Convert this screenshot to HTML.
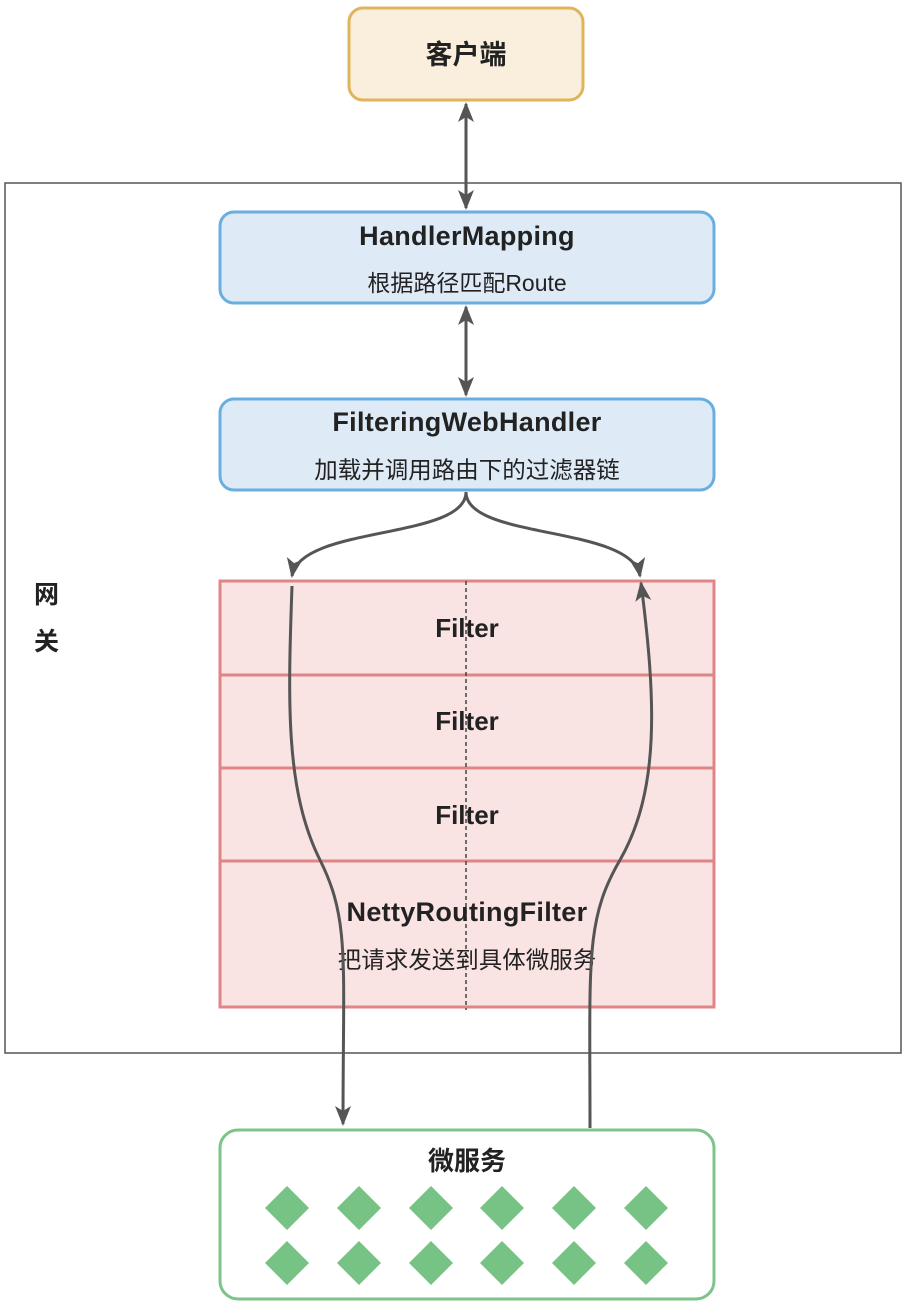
<!DOCTYPE html>
<html><head><meta charset="utf-8"><style>
html,body{margin:0;padding:0;background:#fff}
text{font-family:"Liberation Sans","Noto Sans CJK SC",sans-serif;fill:#222}
</style></head><body>
<svg width="910" height="1307" viewBox="0 0 910 1307" xmlns="http://www.w3.org/2000/svg">
<defs>
<marker id="a" viewBox="0 0 20 20" refX="18" refY="10" markerWidth="20" markerHeight="20" orient="auto-start-reverse" markerUnits="userSpaceOnUse">
<path d="M0,2 L20,10 L0,18 L5,10 z" fill="#555"/>
</marker>
</defs>
<rect x="5" y="183" width="896" height="870" fill="#fff" stroke="#555" stroke-width="1.5"/>
<text x="34" y="603" font-size="25" font-weight="bold">网</text>
<text x="34" y="650" font-size="25" font-weight="bold">关</text>

<rect x="349" y="8" width="234" height="92" rx="14" fill="#f9efdc" stroke="#e0b45a" stroke-width="3"/>
<text x="466" y="64" font-size="27" font-weight="bold" text-anchor="middle">客户端</text>

<rect x="220" y="212" width="494" height="91" rx="14" fill="#deebf7" stroke="#6aaee0" stroke-width="3"/>
<text x="467" y="245" font-size="27" font-weight="bold" text-anchor="middle" letter-spacing="0.3">HandlerMapping</text>
<text x="467" y="291" font-size="23" text-anchor="middle" fill="#333">根据路径匹配Route</text>

<rect x="220" y="399" width="494" height="91" rx="14" fill="#deebf7" stroke="#6aaee0" stroke-width="3"/>
<text x="467" y="431" font-size="27" font-weight="bold" text-anchor="middle" letter-spacing="0.3">FilteringWebHandler</text>
<text x="467" y="478" font-size="23.5" text-anchor="middle" fill="#333">加载并调用路由下的过滤器链</text>

<g fill="#f9e3e3" stroke="#e08585" stroke-width="3">
<rect x="220" y="581" width="494" height="94"/>
<rect x="220" y="675" width="494" height="93"/>
<rect x="220" y="768" width="494" height="93"/>
<rect x="220" y="861" width="494" height="146"/>
</g>
<line x1="466" y1="581" x2="466" y2="1010" stroke="#444" stroke-width="1.5" stroke-dasharray="4,3"/>
<text x="467" y="637" font-size="26" font-weight="bold" text-anchor="middle">Filter</text>
<text x="467" y="730" font-size="26" font-weight="bold" text-anchor="middle">Filter</text>
<text x="467" y="824" font-size="26" font-weight="bold" text-anchor="middle">Filter</text>
<text x="467" y="921" font-size="27" font-weight="bold" text-anchor="middle" letter-spacing="0.3">NettyRoutingFilter</text>
<text x="467" y="968" font-size="23.5" text-anchor="middle" fill="#333">把请求发送到具体微服务</text>

<rect x="220" y="1130" width="494" height="169" rx="18" fill="#fff" stroke="#7cc48a" stroke-width="3"/>
<text x="467" y="1170" font-size="26" font-weight="bold" text-anchor="middle">微服务</text>
<g fill="#77c285">
<path d="M287,1186 l22,22 l-22,22 l-22,-22z"/><path d="M359,1186 l22,22 l-22,22 l-22,-22z"/><path d="M431,1186 l22,22 l-22,22 l-22,-22z"/><path d="M502,1186 l22,22 l-22,22 l-22,-22z"/><path d="M574,1186 l22,22 l-22,22 l-22,-22z"/><path d="M646,1186 l22,22 l-22,22 l-22,-22z"/>
<path d="M287,1241 l22,22 l-22,22 l-22,-22z"/><path d="M359,1241 l22,22 l-22,22 l-22,-22z"/><path d="M431,1241 l22,22 l-22,22 l-22,-22z"/><path d="M502,1241 l22,22 l-22,22 l-22,-22z"/><path d="M574,1241 l22,22 l-22,22 l-22,-22z"/><path d="M646,1241 l22,22 l-22,22 l-22,-22z"/>
</g>

<g stroke="#555" stroke-width="3" fill="none">
<line x1="466" y1="104" x2="466" y2="208" marker-start="url(#a)" marker-end="url(#a)"/>
<line x1="466" y1="307" x2="466" y2="395" marker-start="url(#a)" marker-end="url(#a)"/>
<path d="M466,492 C466,540 300,525 292,576" marker-end="url(#a)"/>
<path d="M466,492 C466,540 632,525 640,576" marker-end="url(#a)"/>
<path d="M292,586 C288,700 285,790 320,860 C350,920 343,960 343,1124" marker-end="url(#a)"/>
<path d="M590,1128 C590,960 585,920 620,860 C660,790 656,700 641,583" marker-end="url(#a)"/>
</g>
</svg>
</body></html>
